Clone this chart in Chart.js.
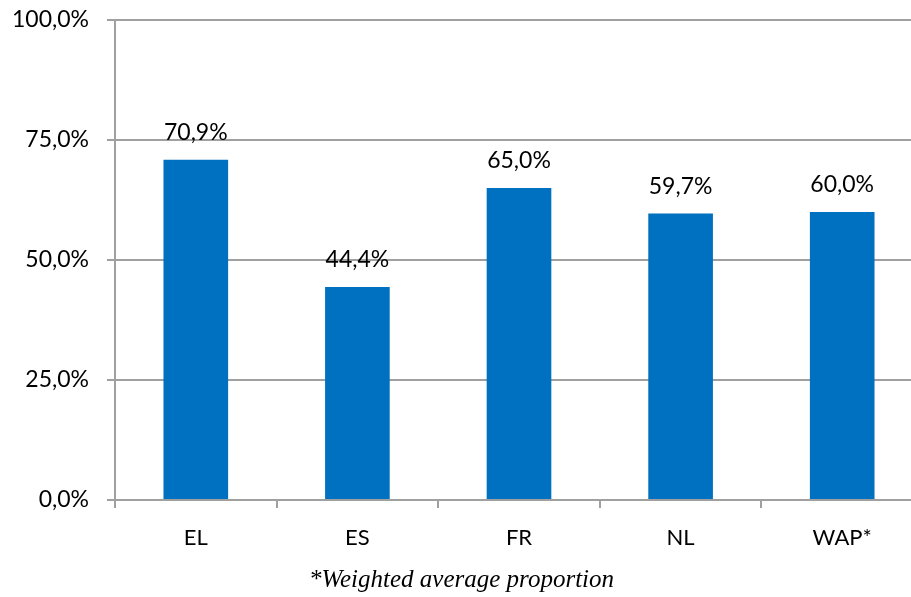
<!DOCTYPE html>
<html>
<head>
<meta charset="utf-8">
<script src="https://cdn.jsdelivr.net/npm/chart.js@4"></script>
<style>
html,body{margin:0;padding:0;overflow:hidden;background:#fff;}
#wrap{width:925px;height:597px;position:relative;}
</style>
</head>
<body>
<div id="wrap"><canvas id="c" width="925" height="597"></canvas></div>
<script>
const categories = ["EL", "ES", "FR", "NL", "WAP*"];
const values = [70.9, 44.4, 65.0, 59.7, 60.0];
const yTicks = [0, 25, 50, 75, 100];
const footnote = "*Weighted average proportion";

function fmt(v){ return v.toFixed(1).replace('.', ',') + '%'; }

const labelPlugin = {
  id: 'barLabels',
  afterDatasetsDraw(chart){
    const ctx = chart.ctx;
    const meta = chart.getDatasetMeta(0);
    ctx.save();
    ctx.font = '23px Lato';
    ctx.fillStyle = '#000';
    ctx.textAlign = 'center';
    ctx.textBaseline = 'middle';
    meta.data.forEach((bar, i) => {
      ctx.fillText(fmt(values[i]), bar.x, bar.y - 27);
    });
    ctx.restore();
  }
};

new Chart(document.getElementById('c'), {
  type: 'bar',
  data: {
    labels: categories,
    datasets: [{
      data: values,
      backgroundColor: '#0070C0',
      categoryPercentage: 1,
      barPercentage: 0.4
    }]
  },
  options: {
    responsive: false,
    animation: false,
    layout: { padding: { top: 20, right: 2, left: 0, bottom: 0 } },
    plugins: {
      legend: { display: false },
      tooltip: { enabled: false },
      title: {
        display: true,
        position: 'bottom',
        text: footnote,
        color: '#000',
        font: { family: 'Liberation Serif', size: 25, style: 'italic', weight: 'normal', lineHeight: 1.2 },
        padding: { top: 0, bottom: 2 }
      }
    },
    scales: {
      x: {
        offset: true,
        afterFit(scale){ scale.height = 65; scale.paddingLeft = 0; scale.paddingRight = 0; },
        grid: { display: true, drawOnChartArea: false, drawTicks: true, tickLength: 8, color: '#A0A0A0', lineWidth: 2, offset: true },
        border: { display: true, color: '#A0A0A0', width: 2 },
        ticks: { color: '#000', font: { family: 'Lato', size: 22 }, padding: 17, maxRotation: 0 }
      },
      y: {
        min: 0, max: 100,
        afterFit(scale){ scale.width = 115; scale.paddingTop = 0; scale.paddingBottom = 0; },
        afterBuildTicks(scale){ scale.ticks = yTicks.map(v => ({ value: v })); },
        grid: { color: '#A0A0A0', lineWidth: 2, tickLength: 8 },
        border: { display: true, color: '#A0A0A0', width: 2 },
        ticks: { color: '#000', font: { family: 'Lato', size: 23 }, padding: 18, callback: v => fmt(v) }
      }
    }
  },
  plugins: [labelPlugin]
});
</script>
</body>
</html>
